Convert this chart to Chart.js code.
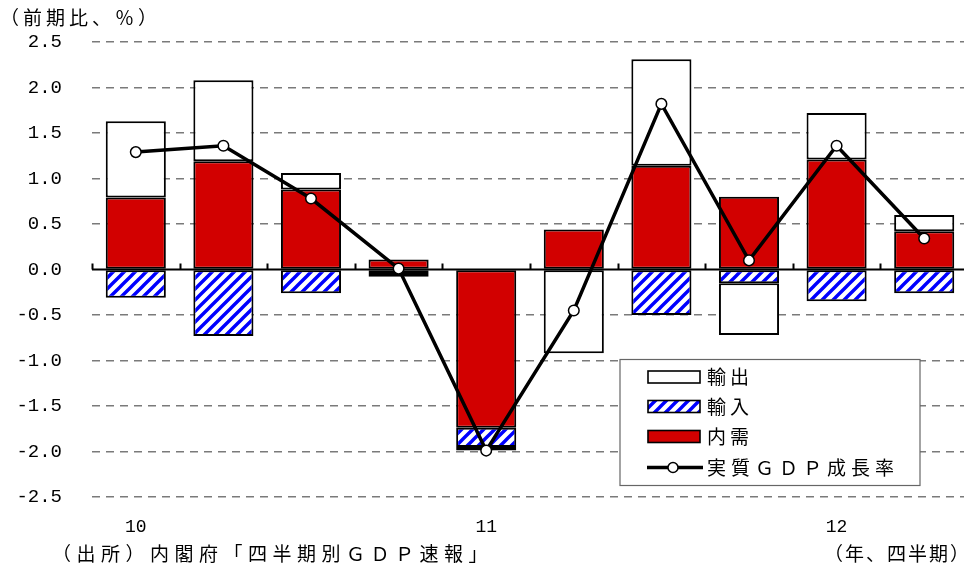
<!DOCTYPE html>
<html>
<head>
<meta charset="utf-8">
<script src="https://cdn.jsdelivr.net/npm/chart.js@4.4.1/dist/chart.umd.min.js"></script>
<style>
html,body{margin:0;padding:0;background:#fff;overflow:hidden;}
</style>
</head>
<body>
<canvas id="gdpChart" width="968" height="575"></canvas>
<script>
/* ---------- data (contribution to q/q growth, %) ---------- */
const quarters = ['10', '', '', '', '11', '', '', '', '12', ''];
const domestic = [0.79, 1.19, 0.88, 0.11, -1.74, 0.44, 1.14, 0.80, 1.21, 0.42];
const imports  = [-0.31, -0.73, -0.26, -0.05, -0.21, 0, -0.50, -0.15, -0.35, -0.26];
const exports  = [0.84, 0.89, 0.18, -0.03, -0.04, -0.92, 1.17, -0.57, 0.51, 0.18];
const gdpGrowth = [1.29, 1.36, 0.78, 0.01, -1.99, -0.45, 1.82, 0.10, 1.36, 0.34];
const yTicks = [-2.5, -2.0, -1.5, -1.0, -0.5, 0.0, 0.5, 1.0, 1.5, 2.0, 2.5];

const JP = '"Noto Sans CJK JP", sans-serif';
const NUM = '"Liberation Mono", monospace';
const RED = '#d20000';

/* blue diagonal hatch for imports */
function makeHatch(){
  const c = document.createElement('canvas');
  c.width = 11; c.height = 11;
  const g = c.getContext('2d');
  g.fillStyle = '#fff';
  g.fillRect(0, 0, 11, 11);
  g.strokeStyle = '#0000ff';
  g.lineWidth = 3.4;
  g.beginPath();
  g.moveTo(-2, 13); g.lineTo(13, -2);
  g.moveTo(-2, 2);  g.lineTo(2, -2);
  g.moveTo(9, 13);  g.lineTo(13, 9);
  g.stroke();
  return g.createPattern(c, 'repeat');
}
const hatch = makeHatch();

/* text with extra spacing between characters */
function spaced(ctx, text, x, y, gap){
  for (const ch of text){
    ctx.fillText(ch, x, y);
    x += ctx.measureText(ch).width + gap;
  }
}

/* zero line with small marks between quarters */
const zeroLine = {
  id: 'zeroLine',
  beforeDatasetsDraw(chart){
    const {ctx, chartArea: a, scales: {y}} = chart;
    const y0 = y.getPixelForValue(0);
    const step = (a.right - a.left) / quarters.length;
    ctx.save();
    ctx.strokeStyle = '#000';
    ctx.lineWidth = 2;
    ctx.beginPath();
    ctx.moveTo(a.left, y0);
    ctx.lineTo(a.right, y0);
    for (let i = 0; i <= quarters.length; i++){
      const x = Math.round(a.left + i * step) + 0.5;
      ctx.moveTo(x, y0);
      ctx.lineTo(x, y0 - 6);
    }
    ctx.stroke();
    ctx.restore();
  }
};

/* legend box + titles / notes */
const extras = {
  id: 'extras',
  afterDatasetsDraw(chart){
    const ctx = chart.ctx;
    ctx.save();

    // legend
    ctx.fillStyle = '#fff';
    ctx.fillRect(620, 359.5, 300, 126);
    ctx.strokeStyle = '#666';
    ctx.lineWidth = 1.2;
    ctx.strokeRect(620, 359.5, 300, 126);

    const rows = [
      {label: '輸出', fill: '#fff', y: 377},
      {label: '輸入', fill: hatch, y: 406.5},
      {label: '内需', fill: RED, y: 436.5}
    ];
    rows.forEach(r => {
      ctx.fillStyle = r.fill;
      ctx.fillRect(648, r.y - 6, 52, 12);
      ctx.strokeStyle = '#000';
      ctx.lineWidth = 1.6;
      ctx.strokeRect(648, r.y - 6, 52, 12);
    });
    ctx.strokeStyle = '#000';
    ctx.lineWidth = 3.5;
    ctx.beginPath();
    ctx.moveTo(647, 467.5);
    ctx.lineTo(703, 467.5);
    ctx.stroke();
    ctx.beginPath();
    ctx.arc(673, 467.5, 5, 0, Math.PI * 2);
    ctx.fillStyle = '#fff';
    ctx.fill();
    ctx.lineWidth = 1.5;
    ctx.stroke();

    ctx.fillStyle = '#000';
    ctx.font = '19px ' + JP;
    ctx.textBaseline = 'middle';
    ctx.textAlign = 'left';
    rows.forEach(r => spaced(ctx, r.label, 707, r.y, 4));
    spaced(ctx, '実質ＧＤＰ成長率', 707, 467.5, 5);

    // titles and notes
    spaced(ctx, '（前期比、％）', 0, 18, 4);
    spaced(ctx, '（出所）内閣府「四半期別ＧＤＰ速報」', 52, 554, 5.5);
    spaced(ctx, '（年、四半期）', 824, 554, 2);

    ctx.restore();
  }
};

new Chart(document.getElementById('gdpChart'), {
  data: {
    labels: quarters,
    datasets: [
      {
        type: 'bar', label: '内需', data: domestic, stack: 'c', order: 1,
        backgroundColor: RED, borderColor: '#000', borderWidth: 2, borderSkipped: false
      },
      {
        type: 'bar', label: '輸入', data: imports, stack: 'c', order: 1,
        backgroundColor: hatch, borderColor: '#000', borderWidth: 2, borderSkipped: false
      },
      {
        type: 'bar', label: '輸出', data: exports, stack: 'c', order: 1,
        backgroundColor: '#fff', borderColor: '#000', borderWidth: 2, borderSkipped: false
      },
      {
        type: 'line', label: '実質ＧＤＰ成長率', data: gdpGrowth, stack: 'gdp', order: 0,
        borderColor: '#000', borderWidth: 3.5, tension: 0, fill: false,
        pointRadius: 5.3, pointBackgroundColor: '#fff', pointBorderColor: '#000', pointBorderWidth: 1.5
      }
    ]
  },
  options: {
    responsive: false,
    animation: false,
    events: [],
    layout: {autoPadding: false, padding: {top: 42, right: 0, bottom: 0, left: 0}},
    datasets: {bar: {categoryPercentage: 1, barPercentage: 0.686}},
    plugins: {legend: {display: false}, tooltip: {enabled: false}},
    scales: {
      x: {
        type: 'category',
        stacked: true,
        grid: {display: false, drawTicks: false},
        border: {display: false},
        ticks: {
          color: '#000', font: {family: NUM, size: 18},
          padding: 19, maxRotation: 0, autoSkip: false
        },
        afterFit(scale){
          scale.height = 78;
          scale.paddingLeft = 0;
          scale.paddingRight = 0;
        }
      },
      y: {
        stacked: true,
        min: -2.5, max: 2.5,
        afterBuildTicks(scale){ scale.ticks = yTicks.map(v => ({value: v})); },
        grid: {
          color: c => c.tick && c.tick.value === 0 ? 'rgba(0,0,0,0)' : '#7a7a7a',
          lineWidth: 1.5,
          drawTicks: false
        },
        border: {display: false, dash: [8, 6]},
        ticks: {
          color: '#000', font: {family: NUM, size: 19}, padding: 30,
          callback: v => v.toFixed(1)
        },
        afterFit(scale){ scale.width = 92; }
      }
    }
  },
  plugins: [zeroLine, extras]
});
</script>
</body>
</html>
